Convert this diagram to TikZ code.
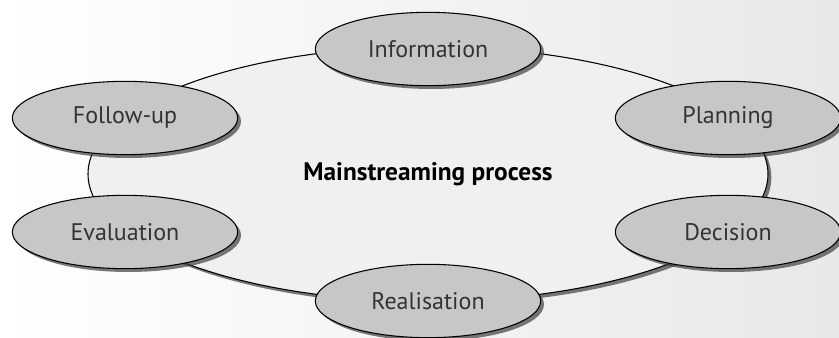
\documentclass[tikz,border=0pt]{standalone}
\usepackage{fontspec}
\setmainfont{PT Sans}
\usetikzlibrary{shapes.geometric,shadows}
\begin{document}
\begin{tikzpicture}[x=0.75pt, y=-0.75pt,
		stage/.style={ellipse, draw=black, line width=0.8pt, fill=black!22,
			minimum width=169pt, minimum height=55pt, inner sep=0pt,
			text=black!80, font=\fontsize{18}{21}\selectfont,
			drop shadow={shadow xshift=2.5pt, shadow yshift=-2.5pt, fill=black!75, opacity=0.7}}]
		% 1. 背景 (左白右灰的渐变)
		\useasboundingbox (0,0) rectangle (839,338);
		\shade[left color=white, right color=black!9] (0,0) rectangle (839,338);
		
		% 2. 大椭圆与标题
		\node[ellipse, draw=black, line width=0.8pt, fill=black!6,
			minimum width=510pt, minimum height=191pt,
			font=\bfseries\fontsize{19}{22}\selectfont,
			drop shadow={shadow xshift=2.5pt, shadow yshift=-2.5pt, fill=black!75, opacity=0.7}]
			(cycle) at (428,174) {Mainstreaming process};
		
		% 3. 六个阶段
		\node[stage] (info) at (428,49) {Information};
		\node[stage] (plan) at (728,118) {Planning};
		\node[stage] (deci) at (728,232) {Decision};
		\node[stage] (real) at (428,301) {Realisation};
		\node[stage] (eval) at (125,232) {Evaluation};
		\node[stage] (follow) at (125,118) {Follow-up};
		
	\end{tikzpicture}
\end{document}
